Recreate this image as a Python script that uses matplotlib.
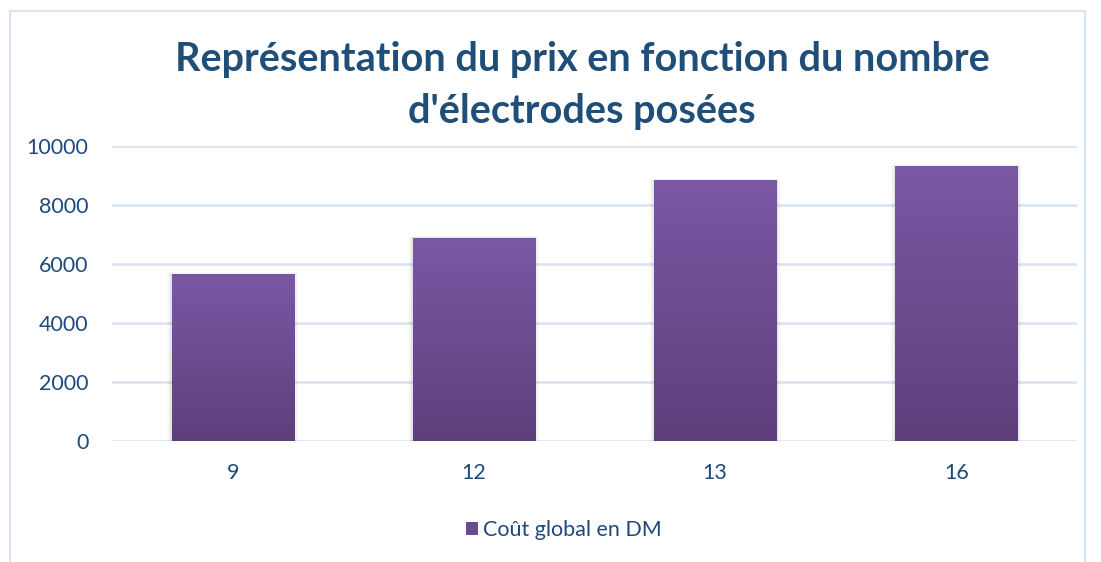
import numpy as np
import matplotlib.pyplot as plt
from matplotlib.colors import LinearSegmentedColormap
from matplotlib.patches import Rectangle

# data
categories = ['9', '12', '13', '16']
cout_global = [5640, 6880, 8820, 9300]
y_ticks = [0, 2000, 4000, 6000, 8000, 10000]

title_color = '#1F4E79'
text_color = '#1F497D'
grid_color = '#D9E3F1'
top_purple = '#7B58A4'
bottom_purple = '#5E3F7C'

plt.rcParams['font.family'] = ['Lato', 'DejaVu Sans']

fig = plt.figure(figsize=(11.01, 5.62), dpi=100)
fig.patch.set_facecolor('white')

# light frame around the chart
fig.add_artist(Rectangle((10 / 1101, -0.05), 1075 / 1101, 1 - 11 / 562 + 0.05,
                         transform=fig.transFigure, fill=False,
                         edgecolor=grid_color, linewidth=1.5))

ax = fig.add_axes([112 / 1101, (562 - 441) / 562, 965 / 1101, 295 / 562])

x = np.arange(len(categories))
width = 0.506
cmap = LinearSegmentedColormap.from_list('grad', [bottom_purple, top_purple])
grad = np.linspace(0, 1, 256).reshape(-1, 1)

for xi, val in zip(x, cout_global):
    # soft shadow
    for k, a in enumerate([0.05, 0.035, 0.02]):
        off = 0.006 * (k + 1)
        ax.add_patch(Rectangle((xi - width / 2 - off, 0), width + 2 * off, val + 25 * (k + 1),
                               facecolor='black', alpha=a, edgecolor='none', zorder=2))
    ax.imshow(grad, extent=[xi - width / 2, xi + width / 2, 0, val], origin='lower',
              cmap=cmap, aspect='auto', zorder=3)

ax.set_xlim(-0.5, len(categories) - 0.5)
ax.set_ylim(0, 10000)
ax.set_xticks(x)
ax.set_xticklabels(categories)
ax.set_yticks(y_ticks)
ax.tick_params(axis='both', length=0, labelsize=15.5, labelcolor=text_color)
ax.tick_params(axis='y', pad=17)
ax.tick_params(axis='x', pad=16)
ax.grid(axis='y', color=grid_color, linewidth=1.8, zorder=0)
ax.set_axisbelow(True)
for s in ax.spines.values():
    s.set_visible(False)

fig.text(582 / 1101, 1 - 60 / 562, 'Représentation du prix en fonction du nombre',
         ha='center', va='center', fontsize=28.5, fontweight='bold', color=title_color)
fig.text(582 / 1101, 1 - 112 / 562, "d'électrodes posées",
         ha='center', va='center', fontsize=28.5, fontweight='bold', color=title_color)

leg_handle = Rectangle((0, 0), 1, 1, facecolor='#6A4A90')
fig.legend([leg_handle], ['Coût global en DM'], loc='center', bbox_to_anchor=(564 / 1101, 1 - 530 / 562),
           frameon=False, fontsize=15.5, labelcolor=text_color, handlelength=0.55, handleheight=0.55,
           handletextpad=0.25)

fig.savefig('out.png', dpi=100)
